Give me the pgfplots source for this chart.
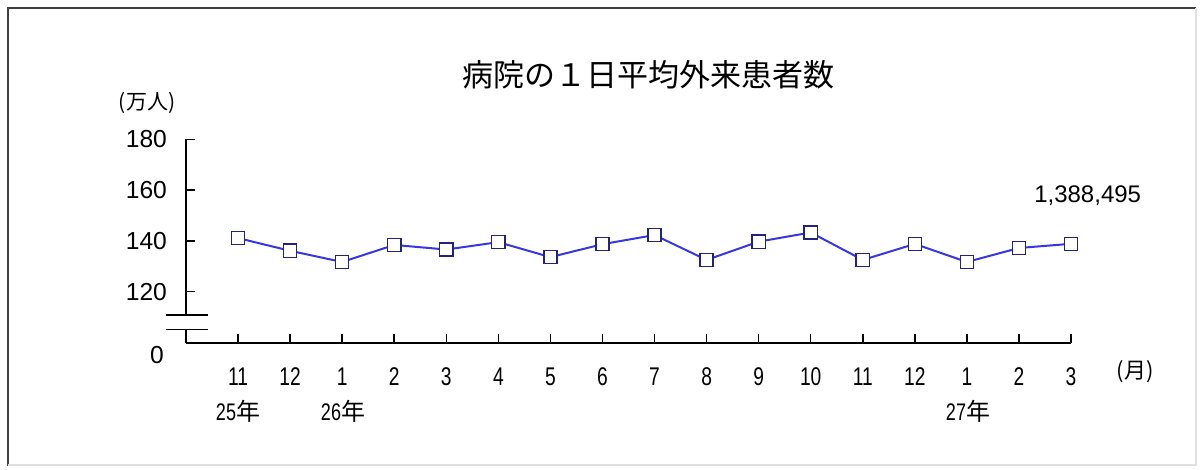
\documentclass[border=0pt]{standalone}
\usepackage{fontspec}
\setmainfont{Liberation Sans}
\newfontfamily\jp{Noto Sans CJK JP}
\newfontfamily\narrow[FakeStretch=0.75]{Liberation Sans}
\usepackage{pgfplots}
\pgfplotsset{compat=1.18}
\definecolor{linec}{RGB}{55,55,225}
\definecolor{markc}{RGB}{35,35,125}
\begin{document}
\begin{tikzpicture}[x=0.5pt,y=0.5pt]
\useasboundingbox (0,0) rectangle (1200,470);
% frame
\draw[black!75, line width=1.2pt] (8,4) -- (8,462) -- (1196,462);
\draw[black!12, line width=0.8pt] (1196,462) -- (1196,5) -- (8,5);
\begin{axis}[
  at={(93pt,63.5pt)}, anchor=south west,
  scale only axis, width=442.5pt, height=101.85pt,
  xmin=-1, xmax=16, ymin=99.8, ymax=180,
  axis lines*=left,
  axis line style={black, line width=0.75pt},
  tick align=inside,
  major tick length=4.5pt,
  tick style={black, line width=0.75pt},
  /pgf/number format/assume math mode=true,
  xtick={0,...,16},
  xticklabels={11,12,1,2,3,4,5,6,7,8,9,10,11,12,1,2,3},
  ytick={120,140,160,180},
  xticklabel style={font=\narrow\fontsize{12.8}{14}\selectfont, yshift=-9pt},
  yticklabel style={font=\fontsize{12.3}{14}\selectfont, xshift=-6pt},
  clip=false,
]
\addplot[color=linec, line width=1pt, mark=square*, mark size=3.3pt,
  mark options={draw=markc, fill=white, line width=0.7pt}]
  coordinates {
  (0,141.1) (1,136.1) (2,131.7) (3,138.4) (4,136.6) (5,139.5) (6,133.6)
  (7,138.7) (8,142.3) (9,132.5) (10,139.7) (11,143.3) (12,132.5)
  (13,138.8) (14,131.7) (15,137.2) (16,138.85)
  };
% axis break
\fill[white] (axis cs:-1.1,105.1) rectangle (axis cs:-0.9,110.9);
\draw[black, line width=0.75pt] (axis cs:-1.38,110.9) -- (axis cs:-0.58,110.9);
\draw[black, line width=0.75pt] (axis cs:-1.38,105.1) -- (axis cs:-0.58,105.1);
\node[font=\fontsize{12}{14}\selectfont] at (axis cs:16.32,157.7) {1,388,495};
\end{axis}
% texts
\node[font=\jp\fontsize{15.5}{18}\selectfont] at (648,395) {病院の１日平均外来患者数};
\node[font=\jp\fontsize{10.5}{12}\selectfont] at (147,367) {(万人)};
\node[font=\fontsize{12.3}{14}\selectfont] at (157,115) {0};
\node[font=\jp\fontsize{11}{12}\selectfont] at (1135,98) {(月)};
\node[font=\fontsize{12}{13}\selectfont] at (238,59) {{\narrow 25}{\jp 年}};
\node[font=\fontsize{12}{13}\selectfont] at (343,59) {{\narrow 26}{\jp 年}};
\node[font=\fontsize{12}{13}\selectfont] at (968,59) {{\narrow 27}{\jp 年}};
\end{tikzpicture}
\end{document}
